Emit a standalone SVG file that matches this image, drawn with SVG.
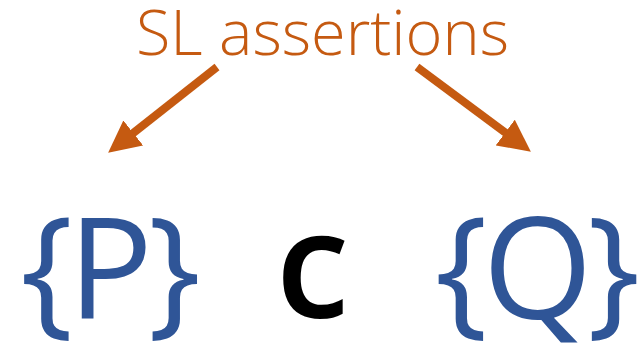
<svg xmlns="http://www.w3.org/2000/svg" width="643" height="349" viewBox="0 0 643 349">
<style>
.lbl{font-family:"Open Sans","Liberation Sans",sans-serif;font-weight:300;font-size:63px;fill:#C55A11;text-anchor:middle}
.big{font-family:"Open Sans","Liberation Sans",sans-serif;font-weight:500;font-size:141px;fill:#2F5597;text-anchor:middle;letter-spacing:-5px}
.cmd{font-family:"Open Sans","Liberation Sans",sans-serif;font-weight:600;font-size:148px;fill:#000;text-anchor:middle}
.arr{stroke:#C55A11;stroke-width:8;fill:none}
</style>
<defs>
<marker id="ah" viewBox="0 0 10 10" refX="0.5" refY="5" markerUnits="strokeWidth" markerWidth="4" markerHeight="4" orient="auto">
<path d="M0,0 L10,5 L0,10 z" fill="#C55A11"/>
</marker>
</defs>
<g id="label"><text class="lbl" x="322.5" y="55">SL assertions</text></g>
<g id="pre"><text class="big" x="108" y="319">{P}</text></g>
<g id="cmd"><text class="cmd" x="312.5" y="318">c</text></g>
<g id="post"><text class="big" x="535" y="319">{Q}</text></g>
<g id="connectors">
<line class="arr" x1="217" y1="67" x2="132" y2="134" marker-end="url(#ah)"/>
<line class="arr" x1="417" y1="67" x2="506.5" y2="133.5" marker-end="url(#ah)"/>
</g>
</svg>
